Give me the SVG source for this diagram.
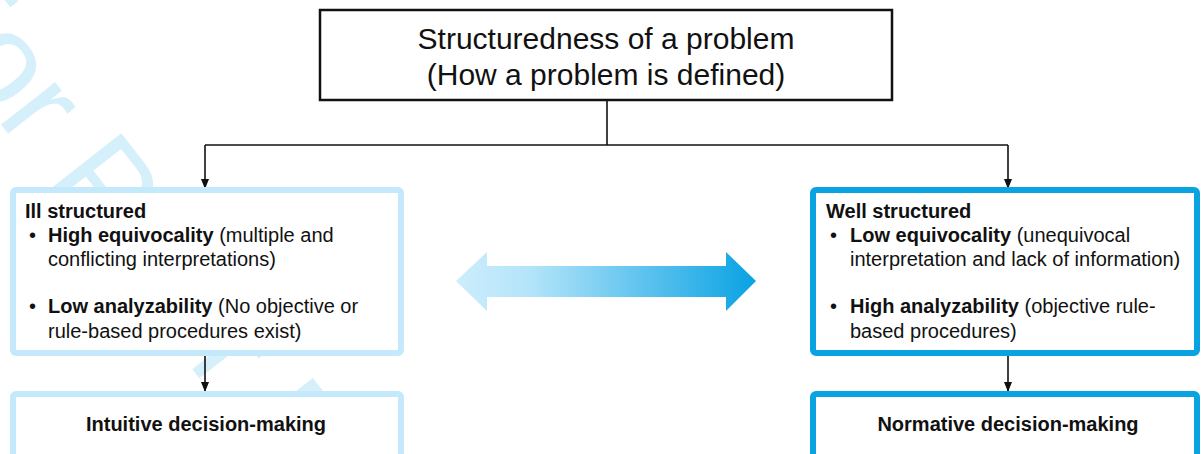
<svg xmlns="http://www.w3.org/2000/svg" width="1201" height="454" viewBox="0 0 1201 454">
  <defs>
    <style>
      .txt { font-family: "Liberation Sans", Arial, sans-serif; fill: #111; }
      .title { font-size: 30px; }
      .body { font-size: 20px; }
      .b { font-weight: bold; }
      .lbl { font-size: 20px; font-weight: bold; }
      .wire { fill: none; stroke: #111; stroke-width: 1.6; }
      .light { fill: #fff; stroke: #c4e9fa; stroke-width: 6; }
      .strong { fill: #fff; stroke: #0aa3e2; stroke-width: 6; }
      .mark { font-family: "Liberation Sans", Arial, sans-serif; font-size: 130px; fill: #d5f0fb; }
    </style>
    <marker id="head" markerWidth="10" markerHeight="10" refX="9" refY="5" orient="auto" markerUnits="userSpaceOnUse">
      <path d="M0,1 L10,5 L0,9 z" fill="#111"/>
    </marker>
    <linearGradient id="swap" x1="0" y1="0" x2="1" y2="0">
      <stop offset="0" stop-color="#cdedfc"/>
      <stop offset="0.25" stop-color="#b3e4f9"/>
      <stop offset="1" stop-color="#09a2e3"/>
    </linearGradient>
  </defs>

  <rect width="1201" height="454" fill="#fff"/>

  <!-- faint diagonal watermark behind the chart -->
  <g id="watermark" transform="translate(0,68) rotate(52)">
    <text class="mark" x="-115.6" y="34">For Peer Review</text>
  </g>

  <!-- connectors -->
  <g id="connectors">
    <path class="wire" d="M607,100 V145"/>
    <path class="wire" d="M205,145 H1008"/>
    <path class="wire" d="M205,145 V188" marker-end="url(#head)"/>
    <path class="wire" d="M1008,145 V188" marker-end="url(#head)"/>
    <path class="wire" d="M205,356 V391" marker-end="url(#head)"/>
    <path class="wire" d="M1008,356 V391" marker-end="url(#head)"/>
    <!-- two-way arrow between the two kinds of problem -->
    <path id="two-way" d="M456,281 L487,252 V266 H726 V252 L756,281 L726,311 V297 H487 V311 Z" fill="url(#swap)"/>
  </g>

  <g id="root">
    <rect x="320" y="10" width="572" height="90" fill="#fff" stroke="#111" stroke-width="2.5"/>
    <text class="txt title" x="606" y="49" text-anchor="middle">Structuredness of a problem</text>
    <text class="txt title" x="606" y="85" text-anchor="middle">(How a problem is defined)</text>
  </g>

  <g id="ill-structured">
    <rect class="light" x="13" y="190" width="388" height="163" rx="3"/>
    <text class="txt body b" x="25" y="218">Ill structured</text>
    <text class="txt body" x="29" y="242">•</text>
    <text class="txt body" x="48" y="242"><tspan class="b">High equivocality</tspan> (multiple and</text>
    <text class="txt body" x="48" y="266">conflicting interpretations)</text>
    <text class="txt body" x="29" y="313">•</text>
    <text class="txt body" x="48" y="313"><tspan class="b">Low analyzability</tspan> (No objective or</text>
    <text class="txt body" x="48" y="338">rule-based procedures exist)</text>
  </g>

  <g id="well-structured">
    <rect class="strong" x="813" y="190" width="384" height="163" rx="3"/>
    <text class="txt body b" x="826" y="218">Well structured</text>
    <text class="txt body" x="830" y="242">•</text>
    <text class="txt body" x="850" y="242"><tspan class="b">Low equivocality</tspan> (unequivocal</text>
    <text class="txt body" x="850" y="266">interpretation and lack of information)</text>
    <text class="txt body" x="830" y="313">•</text>
    <text class="txt body" x="850" y="313"><tspan class="b">High analyzability</tspan> (objective rule-</text>
    <text class="txt body" x="850" y="338">based procedures)</text>
  </g>

  <g id="intuitive">
    <rect class="light" x="13" y="394" width="388" height="70" rx="3"/>
    <text class="txt lbl" x="206" y="431" text-anchor="middle">Intuitive decision-making</text>
  </g>

  <g id="normative">
    <rect class="strong" x="813" y="394" width="384" height="70" rx="3"/>
    <text class="txt lbl" x="1008" y="431" text-anchor="middle">Normative decision-making</text>
  </g>
</svg>
